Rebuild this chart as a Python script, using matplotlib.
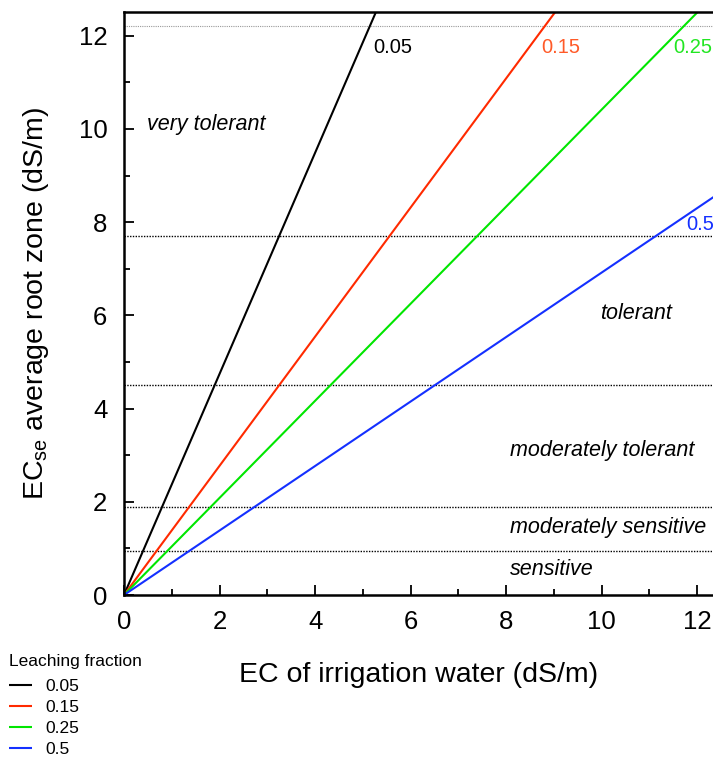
import numpy as np
import matplotlib
matplotlib.use("Agg")
import matplotlib.pyplot as plt

plt.rcParams['font.family'] = ['Liberation Sans', 'DejaVu Sans']

# leaching fraction lines, read as end points from the origin
fractions = ['0.05', '0.15', '0.25', '0.5']
ecw_ends = [5.27, 9.02, 12.0, 12.4]
ece_ends = [12.5, 12.5, 12.5, 8.58]
colors = ['black', '#ff2a00', '#00e600', '#1430ff']
label_colors = ['black', '#ff5a28', '#22e622', '#1430ff']
label_x = [5.21, 8.73, 11.5, 11.76]
label_y = [11.74, 11.74, 11.74, 7.96]

# tolerance class boundaries (ECe)
bounds = [0.95, 1.88, 4.5, 7.7]
top_bound = 12.2
classes = ['very tolerant', 'tolerant', 'moderately tolerant',
           'moderately sensitive', 'sensitive']
class_x = [0.48, 9.97, 8.08, 8.08, 8.08]
class_y = [10.09, 6.05, 3.11, 1.44, 0.54]

fig = plt.figure(figsize=(7.13, 7.6), dpi=100)
ax = fig.add_axes([0.1739, 0.2171, 0.8261, 0.7671])

lines = []
for i in range(len(fractions)):
	l, = ax.plot([0, ecw_ends[i]], [0, ece_ends[i]], color=colors[i], lw=1.5,
	             label=fractions[i], solid_capstyle='butt')
	lines.append(l)
	ax.text(label_x[i], label_y[i], fractions[i], color=label_colors[i],
	        fontsize=14.5, va='center', ha='left', clip_on=False)

for b in bounds:
	ax.axhline(b, color='black', ls=(0, (1, 1)), lw=1.0, zorder=0)
ax.axhline(top_bound, color='#999999', ls=(0, (1, 1)), lw=0.8, zorder=0)

for i in range(len(classes)):
	ax.text(class_x[i], class_y[i], classes[i], style='italic', fontsize=15.5,
	        va='center', ha='left')

ax.set_xlim(0, 12.33)
ax.set_ylim(0, 12.51)
ax.set_xticks(np.arange(0, 13, 2))
ax.set_xticks(np.arange(1, 13, 2), minor=True)
ax.set_yticks(np.arange(0, 13, 2))
ax.set_yticks(np.arange(1, 13, 2), minor=True)
ax.tick_params(which='both', direction='in', width=1.3, labelsize=18.5)
ax.tick_params(which='major', length=7)
ax.tick_params(which='minor', length=4)
ax.tick_params(axis='x', pad=11)
ax.tick_params(axis='y', pad=12)
ax.spines['right'].set_visible(False)
for s in ['left', 'bottom', 'top']:
	ax.spines[s].set_linewidth(1.8)

ax.set_xlabel('EC of irrigation water (dS/m)', fontsize=20.5, labelpad=20)
ax.set_ylabel('EC$_{\\mathregular{se}}$ average root zone (dS/m)', fontsize=20.5, labelpad=20)

leg = fig.legend(handles=lines, title='Leaching fraction', loc='upper left',
                 bbox_to_anchor=(0.005, 0.146), frameon=False, fontsize=12.5,
                 title_fontsize=12.5, handlelength=1.35, handletextpad=0.75,
                 labelspacing=0.33, borderaxespad=0.0, borderpad=0.3)
leg._legend_box.align = 'left'
leg._legend_box.sep = 7

fig.savefig('out.png', dpi=100)
